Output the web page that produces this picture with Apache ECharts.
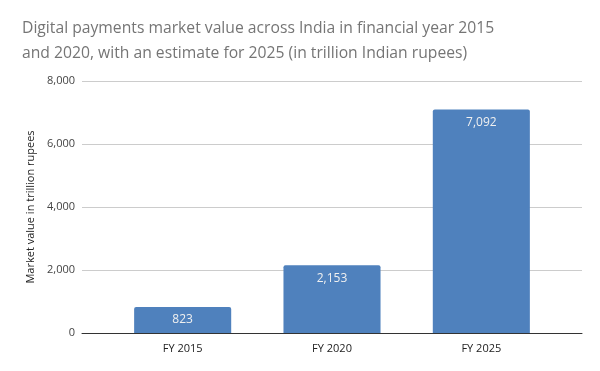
<!DOCTYPE html>
<html><head><meta charset="utf-8">
<script src="https://cdn.jsdelivr.net/npm/echarts@6/dist/echarts.min.js"></script>
<style>html,body{margin:0;padding:0;background:#fff}#c{width:600px;height:371px}</style>
</head><body><div id="c"></div>
<script>
var categories = ['FY 2015', 'FY 2020', 'FY 2025'];
var values = [823, 2153, 7092];
var yTicks = [0, 2000, 4000, 6000, 8000];

var chart = echarts.init(document.getElementById('c'));
var yMax = yTicks[yTicks.length - 1];
chart.setOption({
  animation: false,
  title: {
    text: 'Digital payments market value across India in financial year 2015\nand 2020, with an estimate for 2025 (in trillion Indian rupees)',
    left: 17, top: 11,
    textStyle: { fontFamily: 'Open Sans', fontSize: 15.7, fontWeight: 'normal', color: '#757575', lineHeight: 25 }
  },
  grid: [
    { left: 82, right: 18, top: 81, bottom: 38 },
    { left: 108, right: 44, top: 81, bottom: 38 }
  ],
  xAxis: [
    { type: 'category', gridIndex: 0, data: [''], axisLine: { show: true, lineStyle: { color: '#333', width: 1 } },
      axisTick: { show: false }, axisLabel: { show: false } },
    { type: 'category', gridIndex: 1, data: categories, axisLine: { show: false }, axisTick: { show: false },
      axisLabel: { color: '#222', fontFamily: 'Open Sans', fontSize: 11, margin: 10 } }
  ],
  yAxis: [
    { type: 'value', gridIndex: 0, min: 0, max: yMax, interval: 2000,
      name: 'Market value in trillion rupees', nameLocation: 'middle', nameGap: 45, nameRotate: 90,
      nameTextStyle: { color: '#222', fontFamily: 'Open Sans', fontSize: 11 },
      axisLine: { show: false }, axisTick: { show: false },
      axisLabel: { color: '#444', fontFamily: 'Open Sans', fontSize: 11, margin: 7,
        formatter: function (v) { return v.toLocaleString('en-US'); } },
      splitLine: { lineStyle: { color: '#cccccc' } } },
    { type: 'value', gridIndex: 1, min: 0, max: yMax, interval: 2000, show: false, splitLine: { show: false } }
  ],
  series: [{
    type: 'bar', xAxisIndex: 1, yAxisIndex: 1, data: values, barWidth: '65%',
    itemStyle: { color: '#4f81bd', borderRadius: [2, 2, 0, 0] },
    label: { show: true, position: 'insideTop', distance: 7, color: '#f0f0f0', fontFamily: 'Open Sans', fontSize: 12,
      formatter: function (p) { return p.value.toLocaleString('en-US'); } }
  }]
});
</script></body></html>
